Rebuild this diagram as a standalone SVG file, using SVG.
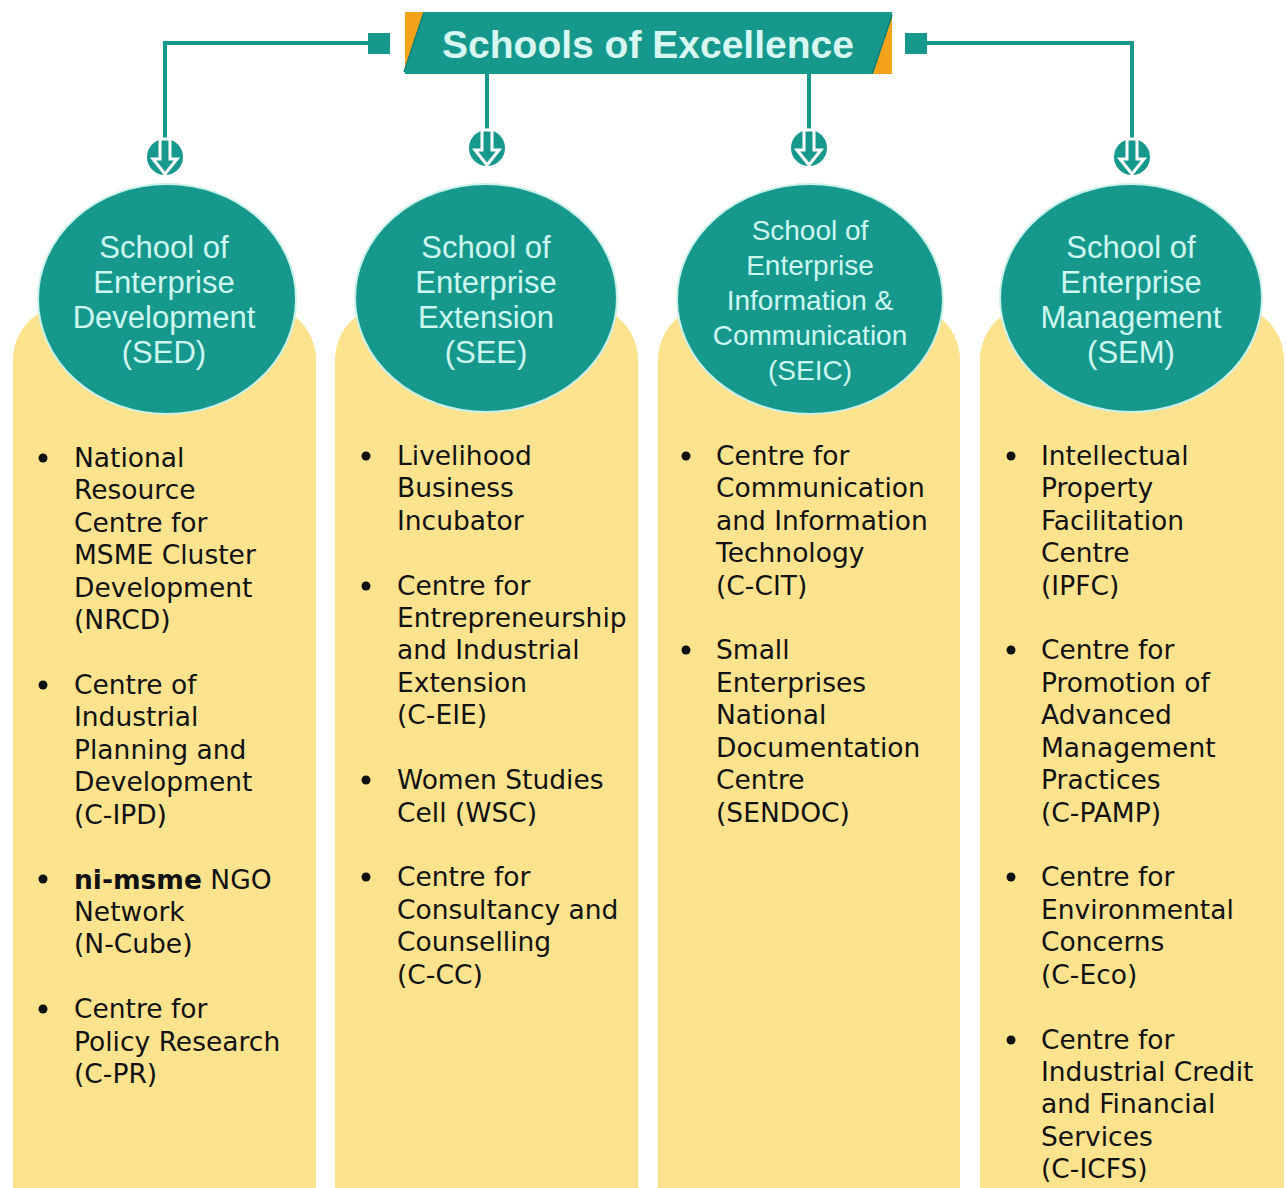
<svg xmlns="http://www.w3.org/2000/svg" xmlns:xlink="http://www.w3.org/1999/xlink" width="1286" height="1188" viewBox="0 0 1286 1188">
<style>
.col{fill:#fde38e}
.blob{fill:#16998c;stroke:#c9f1ea;stroke-width:2}
.ctext{font-family:"Liberation Sans",Arial,sans-serif;font-size:31px;fill:#cdf7f0;text-anchor:middle}
.ctext.small{font-size:28px}
.body{font-family:"DejaVu Sans",Verdana,sans-serif;font-size:26.5px;fill:#111}
.bul{fill:#111}
.conn{stroke:#16998c;stroke-width:4;fill:none}
.sq{fill:#16998c}
</style>
<defs>
<g id="arr">
<circle r="18" fill="#16998c"/>
<polygon points="-5,-18 -5,2 -12,2 0,17 12,2 5,2 5,-18" fill="#16998c" stroke="#ffffff" stroke-width="3" stroke-linejoin="miter"/>
</g>
</defs>
<rect width="1286" height="1188" fill="#ffffff"/>

<g id="columns">
<rect class="col" x="13" y="305" width="303" height="1000" rx="55"/>
<rect class="col" x="335" y="305" width="303" height="1000" rx="55"/>
<rect class="col" x="658" y="305" width="302" height="1000" rx="55"/>
<rect class="col" x="980" y="305" width="304" height="1000" rx="55"/>
</g>

<g id="connectors">
<polyline class="conn" points="368,43 165,43 165,140"/>
<rect class="sq" x="368" y="33" width="22" height="21"/>
<polyline class="conn" points="927,43 1132,43 1132,140"/>
<rect class="sq" x="905" y="33" width="22" height="21"/>
<line class="conn" x1="487" y1="74" x2="487" y2="131"/>
<line class="conn" x1="809" y1="74" x2="809" y2="131"/>
<use xlink:href="#arr" href="#arr" x="165" y="157"/>
<use xlink:href="#arr" href="#arr" x="487" y="148"/>
<use xlink:href="#arr" href="#arr" x="809" y="148"/>
<use xlink:href="#arr" href="#arr" x="1132" y="157"/>
</g>

<g id="title">
<rect x="405" y="12" width="487" height="62" fill="#16998c"/>
<polygon points="405,12 424,12 406,66 405,66" fill="#f5a21b"/>
<line x1="424" y1="12" x2="404" y2="72" stroke="#0f7f74" stroke-width="1.5"/>
<polygon points="892,17 892,74 873,74" fill="#f5a21b"/>
<line x1="892" y1="15" x2="872" y2="74" stroke="#0f7f74" stroke-width="1.5"/>
<text x="648" y="58" font-family="'Liberation Sans',Arial,sans-serif" font-weight="bold" font-size="39" fill="#d6f7f2" text-anchor="middle">Schools of Excellence</text>
</g>

<g id="sed">
<ellipse class="blob" cx="167" cy="299" rx="129" ry="115"/>
<text class="ctext"><tspan x="164" y="258">School of</tspan><tspan x="164" y="293">Enterprise</tspan><tspan x="164" y="328">Development</tspan><tspan x="164" y="363">(SED)</tspan></text>
<circle class="bul" cx="43" cy="458" r="4.5"/>
<circle class="bul" cx="43" cy="685" r="4.5"/>
<circle class="bul" cx="43" cy="879" r="4.5"/>
<circle class="bul" cx="43" cy="1009" r="4.5"/>
<text class="body">
<tspan x="74" y="467">National</tspan><tspan x="74" y="499">Resource</tspan><tspan x="74" y="532">Centre for</tspan><tspan x="74" y="564">MSME Cluster</tspan><tspan x="74" y="597">Development</tspan><tspan x="74" y="629">(NRCD)</tspan>
<tspan x="74" y="694">Centre of</tspan><tspan x="74" y="726">Industrial</tspan><tspan x="74" y="759">Planning and</tspan><tspan x="74" y="791">Development</tspan><tspan x="74" y="824">(C-IPD)</tspan>
<tspan x="74" y="889"><tspan font-weight="bold">ni-msme</tspan> NGO</tspan><tspan x="74" y="921">Network</tspan><tspan x="74" y="953">(N-Cube)</tspan>
<tspan x="74" y="1018">Centre for</tspan><tspan x="74" y="1051">Policy Research</tspan><tspan x="74" y="1083">(C-PR)</tspan>
</text>
</g>

<g id="see">
<ellipse class="blob" cx="486" cy="298" rx="131" ry="114"/>
<text class="ctext"><tspan x="486" y="258">School of</tspan><tspan x="486" y="293">Enterprise</tspan><tspan x="486" y="328">Extension</tspan><tspan x="486" y="363">(SEE)</tspan></text>
<circle class="bul" cx="366" cy="456" r="4.5"/>
<circle class="bul" cx="366" cy="586" r="4.5"/>
<circle class="bul" cx="366" cy="780" r="4.5"/>
<circle class="bul" cx="366" cy="877" r="4.5"/>
<text class="body">
<tspan x="397" y="465">Livelihood</tspan><tspan x="397" y="497">Business</tspan><tspan x="397" y="530">Incubator</tspan>
<tspan x="397" y="595">Centre for</tspan><tspan x="397" y="627">Entrepreneurship</tspan><tspan x="397" y="659">and Industrial</tspan><tspan x="397" y="692">Extension</tspan><tspan x="397" y="724">(C-EIE)</tspan>
<tspan x="397" y="789">Women Studies</tspan><tspan x="397" y="822">Cell (WSC)</tspan>
<tspan x="397" y="886">Centre for</tspan><tspan x="397" y="919">Consultancy and</tspan><tspan x="397" y="951">Counselling</tspan><tspan x="397" y="984">(C-CC)</tspan>
</text>
</g>

<g id="seic">
<ellipse class="blob" cx="810" cy="299" rx="133" ry="115"/>
<text class="ctext small"><tspan x="810" y="240">School of</tspan><tspan x="810" y="275">Enterprise</tspan><tspan x="810" y="310">Information &amp;</tspan><tspan x="810" y="345">Communication</tspan><tspan x="810" y="380">(SEIC)</tspan></text>
<circle class="bul" cx="686" cy="456" r="4.5"/>
<circle class="bul" cx="686" cy="650" r="4.5"/>
<text class="body">
<tspan x="716" y="465">Centre for</tspan><tspan x="716" y="497">Communication</tspan><tspan x="716" y="530">and Information</tspan><tspan x="716" y="562">Technology</tspan><tspan x="716" y="595">(C-CIT)</tspan>
<tspan x="716" y="659">Small</tspan><tspan x="716" y="692">Enterprises</tspan><tspan x="716" y="724">National</tspan><tspan x="716" y="757">Documentation</tspan><tspan x="716" y="789">Centre</tspan><tspan x="716" y="822">(SENDOC)</tspan>
</text>
</g>

<g id="sem">
<ellipse class="blob" cx="1131" cy="298" rx="131" ry="114"/>
<text class="ctext"><tspan x="1131" y="258">School of</tspan><tspan x="1131" y="293">Enterprise</tspan><tspan x="1131" y="328">Management</tspan><tspan x="1131" y="363">(SEM)</tspan></text>
<circle class="bul" cx="1011" cy="456" r="4.5"/>
<circle class="bul" cx="1011" cy="650" r="4.5"/>
<circle class="bul" cx="1011" cy="877" r="4.5"/>
<circle class="bul" cx="1011" cy="1040" r="4.5"/>
<text class="body">
<tspan x="1041" y="465">Intellectual</tspan><tspan x="1041" y="497">Property</tspan><tspan x="1041" y="530">Facilitation</tspan><tspan x="1041" y="562">Centre</tspan><tspan x="1041" y="595">(IPFC)</tspan>
<tspan x="1041" y="659">Centre for</tspan><tspan x="1041" y="692">Promotion of</tspan><tspan x="1041" y="724">Advanced</tspan><tspan x="1041" y="757">Management</tspan><tspan x="1041" y="789">Practices</tspan><tspan x="1041" y="822">(C-PAMP)</tspan>
<tspan x="1041" y="886">Centre for</tspan><tspan x="1041" y="919">Environmental</tspan><tspan x="1041" y="951">Concerns</tspan><tspan x="1041" y="984">(C-Eco)</tspan>
<tspan x="1041" y="1049">Centre for</tspan><tspan x="1041" y="1081">Industrial Credit</tspan><tspan x="1041" y="1113">and Financial</tspan><tspan x="1041" y="1146">Services</tspan><tspan x="1041" y="1178">(C-ICFS)</tspan>
</text>
</g>
</svg>
